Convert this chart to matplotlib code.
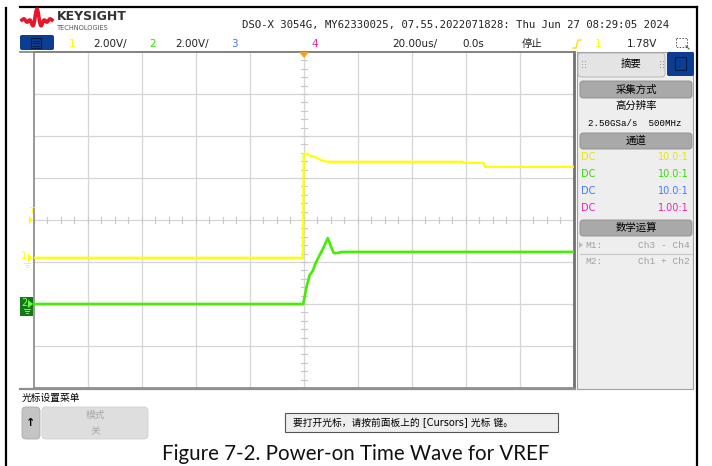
import numpy as np
import matplotlib.pyplot as plt
import matplotlib.transforms as mtransforms
from matplotlib.patches import Rectangle, FancyBboxPatch, Polygon
from matplotlib.lines import Line2D

plt.rcParams['font.family'] = ['DejaVu Sans', 'Noto Sans CJK SC']

# scope settings
volts_per_div = 2.0
us_per_div = 20.0
ch1_offset_div = -0.9
ch2_offset_div = -2.0

# channel 1 (yellow): time in us, volts
ch1_t = [-100, -0.3, 0.0, 1.0, 2.5, 4.0, 5.5, 7.0, 9.5, 30, 58.9, 59.2, 66.5, 67.0, 100]
ch1_v = [0.0, 0.0, 4.95, 4.95, 4.86, 4.81, 4.71, 4.62, 4.57, 4.57, 4.57, 4.52, 4.52, 4.33, 4.33]

# channel 2 (green)
ch2_t = [-100, -0.2, 1.1, 2.2, 3.3, 4.4, 5.9, 7.4, 8.9, 10.0, 11.1, 12.6, 14.1, 100]
ch2_v = [0.0, 0.0, 0.86, 1.38, 1.57, 1.95, 2.33, 2.71, 3.14, 2.76, 2.43, 2.43, 2.48, 2.48]

header = "DSO-X 3054G, MY62330025, 07.55.2022071828: Thu Jun 27 08:29:05 2024"
probe_rows = [("DC", "10.0:1", "#e8e800"), ("DC", "10.0:1", "#33dd00"),
              ("DC", "10.0:1", "#4477ff"), ("DC", "1.00:1", "#ee22aa")]

W, H = 712, 466
fig = plt.figure(figsize=(W / 100, H / 100), dpi=100)
fig.patch.set_facecolor('white')
# pixel transform, origin top-left
px = mtransforms.Affine2D().scale(1 / 100, -1 / 100).translate(0, H / 100) + fig.dpi_scale_trans


def rect(x0, y0, x1, y1, fc, ec='none', lw=0, r=0, z=1, ls='-'):
    if r:
        p = FancyBboxPatch((x0, y0), x1 - x0, y1 - y0, boxstyle=f"round,pad=0,rounding_size={r}",
                           fc=fc, ec=ec, lw=lw, transform=px, zorder=z)
    else:
        p = Rectangle((x0, y0), x1 - x0, y1 - y0, fc=fc, ec=ec, lw=lw, transform=px, zorder=z, ls=ls)
    fig.add_artist(p)


def line(xs, ys, c, lw=1, z=3):
    fig.add_artist(Line2D(xs, ys, color=c, lw=lw, transform=px, zorder=z))


def txt(x, y, s, size=7.5, c='black', ha='left', **kw):
    fig.text(x, y, s, fontsize=size, color=c, ha=ha, va='center', transform=px, **kw)


# ---- scope grid
ax = fig.add_axes([33.5 / W, 1 - 388 / H, (574 - 33.5) / W, (388 - 52) / H])
ax.set_xlim(-5 * us_per_div, 5 * us_per_div)
ax.set_ylim(-4, 4)
ax.set_xticks([])
ax.set_yticks([])
for k in range(-4, 5):
    ax.axvline(k * us_per_div, color='#d6d6d6', lw=0.9, zorder=1)
for k in range(-3, 4):
    ax.axhline(k, color='#d6d6d6', lw=0.9, zorder=1)
for xt in np.arange(-100, 101, us_per_div / 4):
    ax.plot([xt, xt], [-0.07, 0.07], color='#c8c8c8', lw=0.8, zorder=1)
for yt in np.arange(-4, 4.01, 0.2):
    ax.plot([-1.2, 1.2], [yt, yt], color='#c8c8c8', lw=0.8, zorder=1)
for side in ['top', 'bottom']:
    ax.spines[side].set_color('#888888')
    ax.spines[side].set_linewidth(1.2)
ax.spines['left'].set_color('#888888')
ax.spines['left'].set_linewidth(1.2)
ax.spines['right'].set_color('#707070')
ax.spines['right'].set_linewidth(2)

ax.plot(ch1_t, np.array(ch1_v) / volts_per_div + ch1_offset_div, color='#ffff00', lw=1.6, zorder=4)
ax.plot(ch2_t, np.array(ch2_v) / volts_per_div + ch2_offset_div, color='#44ee00', lw=1.9, zorder=5)

# ---- outer frame
line([6, 6], [8, 466], 'black', lw=1.6)
line([20, 697], [7, 7], 'black', lw=1.6)
line([697, 697], [7, 466], 'black', lw=1.6)

# ---- header
tl = np.linspace(-1, 1, 80)
line(22 + (tl + 1) * 15, 20 - 11 * np.sinc(tl * 2.0) * np.cos(tl * 10), '#e8142a', lw=2.6)
txt(57, 17, "KEYSIGHT", size=9, c='#333333', weight='bold')
txt(57, 27.5, "TECHNOLOGIES", size=4.8, c='#555555')
txt(242, 25, header, size=7.7, c='#222222', family='DejaVu Sans Mono')

rect(20, 35, 54, 50, '#0b3d91', r=2)
rect(31, 38, 41, 48, 'none', ec='#061c45', lw=0.8)
for yy in [40.5, 43, 45.5]:
    line([33, 39], [yy, yy], '#061c45', lw=0.7)
txt(69, 44, "1", c='#ffff00')
txt(93, 44, "2.00V/", c='#222222')
txt(149, 44, "2", c='#33dd00')
txt(175, 44, "2.00V/", c='#222222')
txt(231, 44, "3", c='#4477ff')
txt(311, 44, "4", c='#ee22aa')
txt(392, 44, "20.00us/", c='#222222')
txt(462, 44, "0.0s", c='#222222')
txt(522, 44, "停止", c='#222222')
line([573, 576, 578, 581], [48, 48, 40, 40], '#ffdd00', lw=1)
txt(595, 44, "1", c='#ffff00')
txt(627, 44, "1.78V", c='#222222')
rect(676, 38, 687, 47, 'none', ec='#555555', lw=0.7, ls=(0, (1.5, 1.5)))
line([686, 689], [46, 49], '#555555', lw=0.8)
line([20, 575], [52, 52], '#808080', lw=1.2)

# ---- channel markers on the left
y1 = 220 - ch1_offset_div * 42
y2 = 220 - ch2_offset_div * 42
txt(29, 212, "T", size=6, c='#ffff00')
fig.add_artist(Polygon([[29, 216], [33, 220], [29, 224]], fc='#ffff00', transform=px, zorder=6))
txt(21, y1 - 2, "1", size=7, c='#ffff00')
fig.add_artist(Polygon([[28, y1 - 4], [33, y1], [28, y1 + 4]], fc='#ffff00', transform=px, zorder=6))
for i, w in enumerate([6, 4, 2]):
    line([27 - w / 2, 27 + w / 2], [y1 + 5 + 2 * i, y1 + 5 + 2 * i], '#ffff00', lw=0.7)
rect(20, y2 - 7, 33, y2 + 12, '#137a13', z=6)
txt(21, y2 - 1, "2", size=7, c='#88ff66', zorder=7)
fig.add_artist(Polygon([[28, y2 - 4], [33, y2], [28, y2 + 4]], fc='#66ff44', transform=px, zorder=7))
for i, w in enumerate([6, 4, 2]):
    line([27 - w / 2, 27 + w / 2], [y2 + 5 + 2 * i, y2 + 5 + 2 * i], '#66ff44', lw=0.7, z=7)
fig.add_artist(Polygon([[299, 52], [309, 52], [304, 58]], fc='#f5a020', transform=px, zorder=6))

# ---- right panel
rect(577, 52, 693, 389, '#eeeeee', ec='#a0a0a0', lw=0.8)
rect(578, 53, 665, 77, '#e4e4e4', ec='#b0b0b0', lw=0.6, r=3)
txt(621, 64, "摘要", size=7.5)
for gx in [582, 660]:
    for gy in [61, 64, 67]:
        rect(gx, gy, gx + 1, gy + 1, '#999999')
        rect(gx + 2.5, gy, gx + 3.5, gy + 1, '#999999')
rect(667, 52, 694, 76, '#0b3d91', r=2)
rect(675, 57, 686, 70, 'none', ec='#061c45', lw=0.8)


def button(y0, y1, label):
    rect(580, y0, 692, y1, '#a9a9a9', ec='#8a8a8a', lw=0.6, r=3)
    txt(636, (y0 + y1) / 2, label, size=7.5, ha='center')


button(81, 98, "采集方式")
txt(636, 106, "高分辨率", size=7.5, ha='center')
txt(635, 124, "2.50GSa/s  500MHz", size=6.6, ha='center', family='Liberation Mono')
button(133, 149, "通道")
for i, (cpl, ratio, col) in enumerate(probe_rows):
    yy = 157.5 + i * 16.7
    txt(581, yy, cpl, size=7, c=col)
    txt(689, yy, ratio, size=7, c=col, ha='right')
button(220, 236, "数学运算")
fig.add_artist(Polygon([[579, 242], [583, 245], [579, 248]], fc='#bbbbbb', transform=px, zorder=3))
txt(585, 245, "M1:", size=6.8, c='#a0a0a0', family='Liberation Mono')
txt(690, 245, "Ch3 - Ch4", size=6.8, c='#a0a0a0', ha='right', family='Liberation Mono')
line([580, 692], [254, 254], '#c8c8c8', lw=0.8)
txt(585, 262, "M2:", size=6.8, c='#a0a0a0', family='Liberation Mono')
txt(690, 262, "Ch1 + Ch2", size=6.8, c='#a0a0a0', ha='right', family='Liberation Mono')

# ---- bottom menu
line([20, 575], [388.5, 388.5], '#909090', lw=1.6)
txt(22, 398, "光标设置菜单", size=7)
rect(22, 407, 40, 439, '#c4c4c4', ec='#a8a8a8', lw=0.6, r=4)
txt(31, 423, "↑", size=8, ha='center', weight='bold')
rect(42, 407, 148, 439, '#dedede', ec='#d0d0d0', lw=0.6, r=4)
txt(95, 415, "模式", size=7, c='#a8a8a8', ha='center')
txt(95, 430, "关", size=7, c='#a8a8a8', ha='center')
rect(285, 413, 558, 432, '#eeeeee', ec='#555555', lw=0.8)
txt(293, 422.5, "要打开光标，请按前面板上的 [Cursors] 光标 键。", size=7)

# ---- caption
fig.text(356 / W, 1 - 454 / H, "Figure 7-2. Power-on Time Wave for VREF", fontsize=14.8,
         family='Lato', ha='center', va='center', color='#111111')

fig.savefig('out.png', dpi=100)
